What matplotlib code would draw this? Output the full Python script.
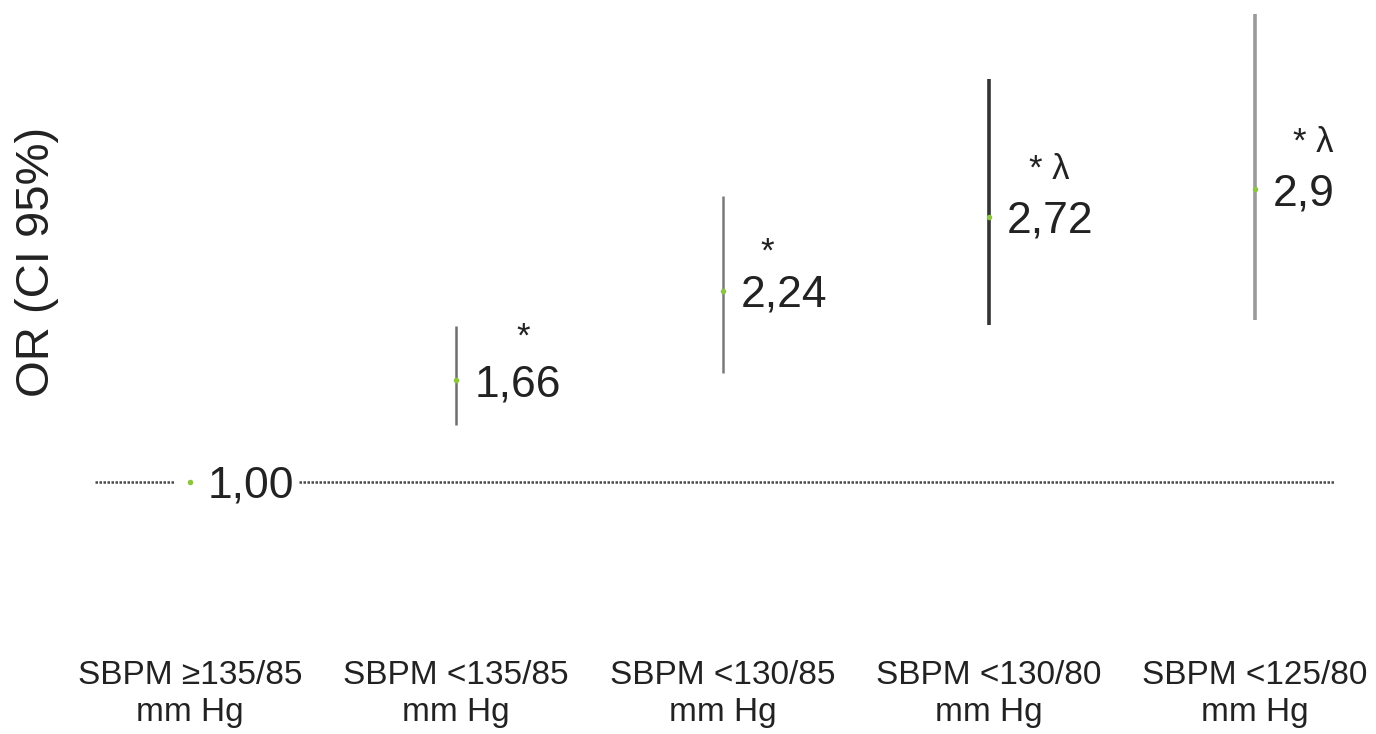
import matplotlib.pyplot as plt

# data
categories = ['SBPM \u2265135/85\nmm Hg', 'SBPM <135/85\nmm Hg', 'SBPM <130/85\nmm Hg',
              'SBPM <130/80\nmm Hg', 'SBPM <125/80\nmm Hg']
odds_ratio = [1.00, 1.66, 2.24, 2.72, 2.9]
ci_low = [None, 1.37, 1.71, 2.02, 2.05]
ci_high = [None, 2.01, 2.86, 3.62, 4.04]
value_labels = ['1,00', '1,66', '2,24', '2,72', '2,9']
signif = ['', '*', '*', '* \u03bb', '* \u03bb']

# style per CI line
line_colors = [None, '#6e6e6e', '#7a7a7a', '#333333', '#9a9a9a']
line_widths = [0, 1.8, 1.8, 2.6, 2.6]
sig_offsets = [(0, 0), (43, 31), (27, 28), (29, 34), (27, 34)]

plt.rcParams['font.family'] = ['Liberation Sans', 'DejaVu Sans']

fig = plt.figure(figsize=(13.76, 7.34), dpi=100)
ax = fig.add_axes([0, (734 - 645) / 734, 1, 645 / 734])

x = list(range(len(categories)))
ax.set_xlim(-190 / 266.25, (1376 - 190) / 266.25)
ax.set_ylim(1 - 163 / 154, 1 + 482 / 154)

# reference line at OR = 1
ax.axhline(1.0, xmin=95 / 1376, xmax=1335 / 1376, color='#4a4a4a',
           linestyle=(0, (1, 0.6)), linewidth=1.8, zorder=1)

for i in x:
    if ci_low[i] is not None:
        ax.vlines(i, ci_low[i], ci_high[i], color=line_colors[i],
                  linewidth=line_widths[i], zorder=2)
    else:
        # white patch so the dotted line breaks around the reference point
        ax.plot(i, odds_ratio[i], 'o', color='white', markersize=22, zorder=2)
    ax.plot(i, odds_ratio[i], 'o', color='#8cc63f', markersize=4,
            markeredgewidth=0, zorder=4)
    bbox = None
    if i == 0:
        bbox = dict(facecolor='white', edgecolor='none', pad=3)
    ax.annotate(value_labels[i], (i, odds_ratio[i]), xytext=(13, -3),
                textcoords='offset points', ha='left', va='center',
                fontsize=32, color='#222222', bbox=bbox, zorder=3)
    if signif[i]:
        ax.annotate(signif[i], (i, odds_ratio[i]), xytext=sig_offsets[i],
                    textcoords='offset points', ha='left', va='center',
                    fontsize=25, color='#222222', zorder=3)

ax.set_xticks(x)
ax.set_xticklabels(categories, fontsize=24, color='#222222', linespacing=1.25)
ax.tick_params(axis='x', length=0, pad=11)
ax.set_yticks([])
for s in ax.spines.values():
    s.set_visible(False)

fig.text(37 / 1376, 1 - 262 / 734, 'OR (CI 95%)', rotation=90, fontsize=34,
         ha='center', va='center', color='#222222')

fig.savefig('out.png', dpi=100)
